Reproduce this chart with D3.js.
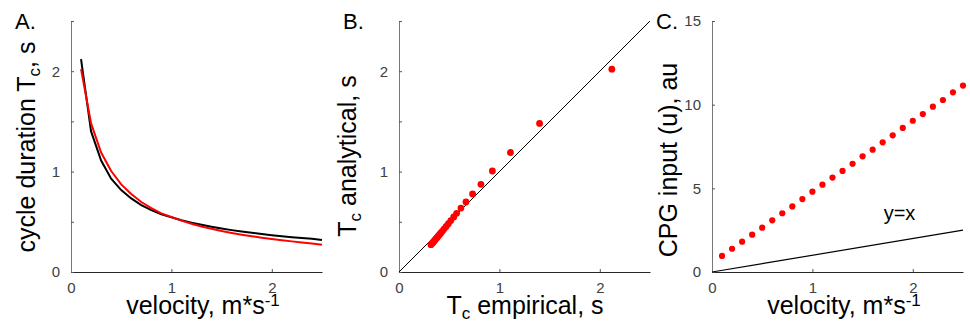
<!DOCTYPE html>
<html>
<head>
<meta charset="utf-8">
<script src="https://cdn.jsdelivr.net/npm/d3@7"></script>
<style>
  body { margin: 0; background: #fff; }
  svg { display: block; font-family: "Liberation Sans", Arial, sans-serif; }
  .tick text { fill: #404040; font-size: 15px; }
</style>
</head>
<body>
<svg id="fig" width="970" height="324"></svg>
<script>
// velocity samples, m/s
const velocity = [0.1,0.2,0.3,0.4,0.5,0.6,0.7,0.8,0.9,1.0,1.1,1.2,1.3,1.4,1.5,
                  1.6,1.7,1.8,1.9,2.0,2.1,2.2,2.3,2.4,2.5];
// cycle duration, empirical (black) and analytical (red)
const tcEmpirical = [2.12,1.40,1.11,0.93,0.816,0.733,0.667,0.617,0.574,0.545,0.516,0.492,
                     0.470,0.450,0.433,0.417,0.403,0.390,0.378,0.367,0.357,0.347,0.338,0.330,0.318];
const tcAnalytical = [2.02,1.48,1.19,1.006,0.873,0.777,0.697,0.637,0.584,0.548,0.512,0.481,
                      0.454,0.430,0.408,0.389,0.372,0.357,0.342,0.329,0.317,0.305,0.294,0.284,0.272];
// CPG drive needed for each velocity
const cpgInput = [0.96,1.39,1.81,2.23,2.65,3.09,3.51,3.92,4.36,4.80,5.22,5.64,6.04,6.47,
                  6.91,7.31,7.75,8.17,8.61,9.04,9.44,9.88,10.28,10.74,11.14];

const tcTicks = [0,0.5,1,1.5,2,2.5];
const velTicks = [0,1,2];
const cpgTicks = [0,5,10,15];

const svg = d3.select('#fig');
const plotTop = 21, plotBottom = 272;

// one set of axes, MATLAB-ish look: inward ticks, labels only on integers
function makePanel(o) {
  const x = d3.scaleLinear().domain(o.xDomain).range([o.left, o.right]);
  const y = d3.scaleLinear().domain(o.yDomain).range([plotBottom, plotTop]);
  const g = svg.append('g');

  const intFmt = d => Number.isInteger(d) ? d : '';

  g.append('g')
    .attr('transform', `translate(0,${plotBottom})`)
    .call(d3.axisBottom(x).tickValues(o.xTicks).tickFormat(intFmt)
      .tickSizeInner(-3).tickSizeOuter(0).tickPadding(10))
    .call(a => a.select('.domain').attr('stroke', '#262626'))
    .call(a => a.selectAll('.tick line').attr('stroke', '#555'))
    .call(a => a.selectAll('.tick text').attr('font-family', null));

  g.append('g')
    .attr('transform', `translate(${o.left},0)`)
    .call(d3.axisLeft(y).tickValues(o.yTicks).tickFormat(intFmt)
      .tickSizeInner(-3).tickSizeOuter(0).tickPadding(11))
    .call(a => a.select('.domain').attr('stroke', '#777'))
    .call(a => a.selectAll('.tick line').attr('stroke', '#555'))
    .call(a => a.selectAll('.tick text').attr('font-family', null));

  // panel letter
  g.append('text').attr('x', o.left - 56).attr('y', 29)
    .attr('font-size', 22).text(o.letter);

  return { g, x, y };
}

function addLabel(g, parts, attrs, rotate) {
  const t = g.append('text').attr('font-size', 25).attr('fill', '#000');
  Object.entries(attrs).forEach(([k, v]) => t.attr(k, v));
  if (rotate) t.attr('transform', rotate);
  parts.forEach(p => {
    const s = t.append('tspan').text(p.t);
    if (p.sub) s.attr('font-size', 17).attr('baseline-shift', '-30%');
    if (p.sup) s.attr('font-size', 17).attr('baseline-shift', '45%');
  });
  return t;
}

// ---- A. cycle duration vs velocity
const A = makePanel({ left: 71, right: 322, xDomain: [0, 2.5], yDomain: [0, 2.5],
  xTicks: velTicks, yTicks: tcTicks, letter: 'A.' });

const lineA = arr => d3.line().x((d, i) => A.x(velocity[i])).y(d => A.y(d))(arr);
A.g.append('path').attr('d', lineA(tcEmpirical))
  .attr('fill', 'none').attr('stroke', '#000').attr('stroke-width', 2);
A.g.append('path').attr('d', lineA(tcAnalytical))
  .attr('fill', 'none').attr('stroke', '#f00').attr('stroke-width', 2);

addLabel(A.g, [{t: 'cycle duration T'}, {t: 'c', sub: true}, {t: ', s'}],
  { 'text-anchor': 'middle' }, 'translate(35,147) rotate(-90)');
addLabel(A.g, [{t: 'velocity, m*s'}, {t: '-1', sup: true}],
  { x: 203, y: 314, 'text-anchor': 'middle' });

// ---- B. analytical vs empirical
const B = makePanel({ left: 399, right: 650, xDomain: [0, 2.5], yDomain: [0, 2.5],
  xTicks: velTicks, yTicks: tcTicks, letter: 'B.' });

B.g.append('line')
  .attr('x1', B.x(0)).attr('y1', B.y(0)).attr('x2', B.x(2.5)).attr('y2', B.y(2.5))
  .attr('stroke', '#000').attr('stroke-width', 1);

B.g.selectAll('circle').data(tcEmpirical).join('circle')
  .attr('cx', d => B.x(d)).attr('cy', (d, i) => B.y(tcAnalytical[i]))
  .attr('r', 3.4).attr('fill', '#f00');

addLabel(B.g, [{t: 'T'}, {t: 'c', sub: true}, {t: ' analytical, s'}],
  { 'text-anchor': 'middle' }, 'translate(356,156) rotate(-90)');
addLabel(B.g, [{t: 'T'}, {t: 'c', sub: true}, {t: ' empirical, s'}],
  { x: 525, y: 314, 'text-anchor': 'middle' });

// ---- C. CPG input vs velocity
const C = makePanel({ left: 712, right: 963, xDomain: [0, 2.5], yDomain: [0, 15],
  xTicks: velTicks, yTicks: cpgTicks, letter: 'C.' });

C.g.append('line')
  .attr('x1', C.x(0)).attr('y1', C.y(0)).attr('x2', C.x(2.5)).attr('y2', C.y(2.5))
  .attr('stroke', '#000').attr('stroke-width', 1.2);

C.g.selectAll('circle').data(cpgInput).join('circle')
  .attr('cx', (d, i) => C.x(velocity[i])).attr('cy', d => C.y(d))
  .attr('r', 3.1).attr('fill', '#f00');

C.g.append('text').attr('x', C.x(1.71)).attr('y', C.y(3.1))
  .attr('font-size', 20).text('y=x');

addLabel(C.g, [{t: 'CPG input (u), au'}],
  { 'text-anchor': 'middle' }, 'translate(677,160) rotate(-90)');
addLabel(C.g, [{t: 'velocity, m*s'}, {t: '-1', sup: true}],
  { x: 844, y: 314, 'text-anchor': 'middle' });
</script>
</body>
</html>
